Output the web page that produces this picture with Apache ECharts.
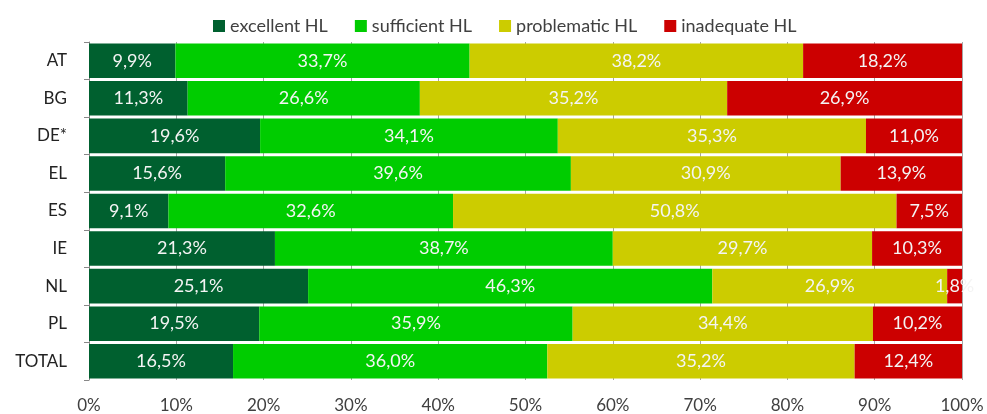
<!DOCTYPE html>
<html>
<head>
<meta charset="utf-8">
<script src="https://cdn.jsdelivr.net/npm/echarts@6/dist/echarts.min.js"></script>
<style>
  html, body { margin: 0; padding: 0; background: #fff; }
  #chart { width: 987px; height: 414px; }
</style>
</head>
<body>
<div id="chart"></div>
<script>
// countries, top to bottom
var categories = ["AT", "BG", "DE*", "EL", "ES", "IE", "NL", "PL", "TOTAL"];
var seriesNames = ["excellent HL", "sufficient HL", "problematic HL", "inadequate HL"];
var excellent = [9.9, 11.3, 19.6, 15.6, 9.1, 21.3, 25.1, 19.5, 16.5];
var sufficient = [33.7, 26.6, 34.1, 39.6, 32.6, 38.7, 46.3, 35.9, 36.0];
var problematic = [38.2, 35.2, 35.3, 30.9, 50.8, 29.7, 26.9, 34.4, 35.2];
var inadequate = [18.2, 26.9, 11.0, 13.9, 7.5, 10.3, 1.8, 10.2, 12.4];
var colors = ["#00602f", "#00cc00", "#cccc00", "#cc0000"];

var font = "Lato, 'Open Sans', sans-serif";
var chart = echarts.init(document.getElementById("chart"));

function pct(v) {
  return v.toFixed(1).replace(".", ",") + "%";
}

var allData = [excellent, sufficient, problematic, inadequate];
var series = allData.map(function (arr, i) {
  return {
    name: seriesNames[i],
    type: "bar",
    stack: "total",
    barCategoryGap: "8%",
    data: arr,
    itemStyle: { color: colors[i] },
    label: {
      show: true,
      position: "inside",
      color: "#f4f4f4",
      fontSize: 18,
      fontFamily: font,
      formatter: function (p) { return pct(p.value); }
    }
  };
});

var option = {
  animation: false,
  textStyle: { fontFamily: font },
  legend: {
    top: 12,
    left: 208,
    icon: "rect",
    itemWidth: 12,
    itemHeight: 12,
    itemGap: 27,
    textStyle: { fontSize: 18, color: "#404040", fontFamily: font },
    data: seriesNames
  },
  grid: { left: 89, right: 25, top: 42, height: 339 },
  xAxis: {
    type: "value",
    min: 0,
    max: 100,
    interval: 10,
    axisLine: { show: false },
    axisTick: { show: false },
    splitLine: { show: true, lineStyle: { color: "#a6a6a6", width: 1 } },
    axisLabel: {
      margin: 17,
      fontSize: 17,
      color: "#404040",
      fontFamily: font,
      formatter: function (v) { return v + "%"; }
    }
  },
  yAxis: {
    type: "category",
    inverse: true,
    data: categories,
    axisLine: { show: true, lineStyle: { color: "#888" } },
    axisTick: { show: true, length: 5, lineStyle: { color: "#888" } },
    axisLabel: { margin: 22, fontSize: 17, color: "#222", fontFamily: font }
  },
  series: series
};

chart.setOption(option);
</script>
</body>
</html>
